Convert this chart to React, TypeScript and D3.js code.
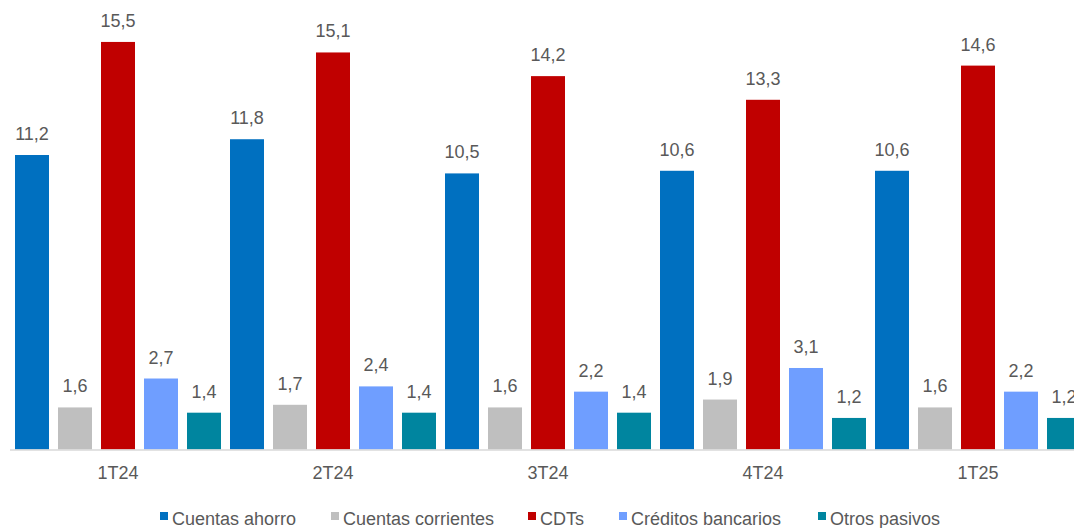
import React from "react";
import * as d3 from "d3";

const categories = ["1T24", "2T24", "3T24", "4T24", "1T25"];
const seriesNames = ["Cuentas ahorro", "Cuentas corrientes", "CDTs", "Créditos bancarios", "Otros pasivos"];
const cuentasAhorro = [11.2, 11.8, 10.5, 10.6, 10.6];
const cuentasCorrientes = [1.6, 1.7, 1.6, 1.9, 1.6];
const cdts = [15.5, 15.1, 14.2, 13.3, 14.6];
const creditosBancarios = [2.7, 2.4, 2.2, 3.1, 2.2];
const otrosPasivos = [1.4, 1.4, 1.4, 1.2, 1.2];
const colors = ["#0070C0", "#BFBFBF", "#C00000", "#6F9EFF", "#00859F"];

const seriesValues = [cuentasAhorro, cuentasCorrientes, cdts, creditosBancarios, otrosPasivos];

const W = 1074;
const H = 528;
const FONT = "'Liberation Sans', Arial, sans-serif";
const TEXT = "#595959";

export default function App() {
  const x0 = d3
    .scaleBand<string>()
    .domain(categories)
    .range([10.5, 1085.5])
    .paddingInner(9 / 215)
    .paddingOuter(9 / 430);
  const x1 = d3
    .scaleBand<string>()
    .domain(seriesNames)
    .range([0, x0.bandwidth()])
    .paddingInner(9 / 43)
    .paddingOuter(0);
  const y = d3.scaleLinear().domain([0, 17]).range([449.5, 2.5]);

  const legendX = [160, 331, 528, 619, 818];
  const fmt = (v: number) => v.toFixed(1).replace(".", ",");

  return (
    <svg
      width={W}
      height={H}
      style={{ position: "absolute", left: 0, top: 0, background: "#fff" }}
      fontFamily={FONT}
    >
      <rect x={0} y={0} width={W} height={H} fill="#fff" />
      {categories.map((c, ci) => (
        <g key={c} transform={`translate(${x0(c)},0)`}>
          {seriesNames.map((s, si) => {
            const v = seriesValues[si][ci];
            const bx = x1(s)!;
            const top = y(v);
            return (
              <g key={s}>
                <rect x={bx} y={top} width={x1.bandwidth()} height={y(0) - top} fill={colors[si]} />
                <text
                  x={bx + x1.bandwidth() / 2}
                  y={top - 15}
                  textAnchor="middle"
                  fontSize={18}
                  fill={TEXT}
                >
                  {fmt(v)}
                </text>
              </g>
            );
          })}
        </g>
      ))}
      <line x1={10} x2={W} y1={450} y2={450} stroke="#D9D9D9" strokeWidth={1.5} />
      {categories.map((c) => (
        <text
          key={c}
          x={x0(c)! + x0.bandwidth() / 2}
          y={479}
          textAnchor="middle"
          fontSize={18}
          fill={TEXT}
        >
          {c}
        </text>
      ))}
      {seriesNames.map((s, i) => (
        <g key={s} transform={`translate(${legendX[i]},0)`}>
          <rect x={0} y={512} width={8} height={8} fill={colors[i]} />
          <text x={12} y={525} fontSize={18} fill={TEXT}>
            {s}
          </text>
        </g>
      ))}
    </svg>
  );
}
